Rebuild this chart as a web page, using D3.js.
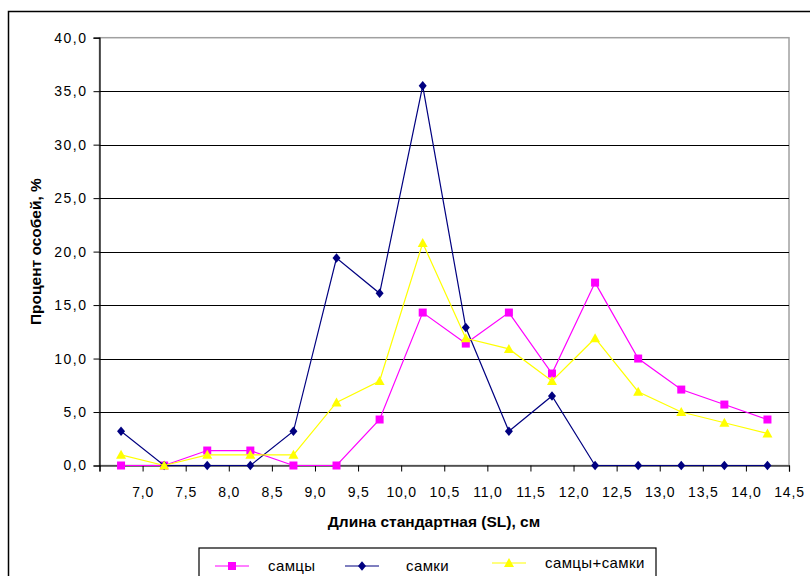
<!DOCTYPE html>
<html><head><meta charset="utf-8">
<script src="https://cdn.jsdelivr.net/npm/d3@7"></script>
<style>
html,body{margin:0;padding:0;background:#fff;}
svg{display:block;font-family:"Liberation Sans",Arial,sans-serif;}
</style></head>
<body><svg id="c" width="810" height="576"></svg>
<script>
// bin centres (cm)
const binCenters = [6.75,7.25,7.75,8.25,8.75,9.25,9.75,10.25,10.75,11.25,11.75,12.25,12.75,13.25,13.75,14.25];
const xTicks = [6.5,7.0,7.5,8.0,8.5,9.0,9.5,10.0,10.5,11.0,11.5,12.0,12.5,13.0,13.5,14.0,14.5];
const yTicks = [0,5,10,15,20,25,30,35,40];
const males   = [0,0,1.4,1.4,0,0,4.3,14.3,11.4,14.3,8.6,17.1,10.0,7.1,5.7,4.3];
const females = [3.2,0,0,0,3.2,19.4,16.1,35.5,12.9,3.2,6.5,0,0,0,0,0];
const both    = [1.0,0,1.0,1.0,1.0,5.9,7.9,20.8,11.9,10.9,7.9,11.9,6.9,5.0,4.0,3.0];
const seriesNames = ["самцы","самки","самцы+самки"];
const seriesColors = ["#FF00FF","#000080","#FFFF00"];
const seriesShapes = ["square","diamond","triangle"];
const yTitle = "Процент особей, %";
const xTitle = "Длина стандартная (SL), см";

const svg = d3.select("#c");
const L = 99.5, R = 789, T = 37.7, B = 465.5;
const x = d3.scaleLinear().domain([6.5,14.5]).range([L,R]);
const y = d3.scaleLinear().domain([0,40]).range([B,T]);
const fmt = d => d3.format(".1f")(d).replace(".", ",");

// outer chart frame
svg.append("rect").attr("x",8.5).attr("y",11.5).attr("width",830).attr("height",600)
  .attr("fill","#fff").attr("stroke","#000").attr("stroke-width",1.5);

// plot area border (grey)
svg.append("rect").attr("x",L).attr("y",T).attr("width",R-L).attr("height",B-T)
  .attr("fill","#fff").attr("stroke","#a0a0a0").attr("stroke-width",1.5);

// gridlines
svg.append("g").selectAll("line").data(yTicks.filter(d=>d>0 && d<40)).join("line")
  .attr("x1",L).attr("x2",R).attr("y1",d=>Math.round(y(d))+0.5).attr("y2",d=>Math.round(y(d))+0.5)
  .attr("stroke","#000").attr("stroke-width",1.2);

// y axis
const yAxis = d3.axisLeft(y).tickValues(yTicks).tickFormat(fmt).tickSize(6).tickPadding(6);
const gy = svg.append("g").attr("transform",`translate(${L},0)`).call(yAxis);
gy.select(".domain").attr("stroke","#000").attr("stroke-width",1.2);
gy.selectAll(".tick line").attr("stroke","#000");
gy.selectAll("text").attr("font-size",14).attr("letter-spacing","1.5px").attr("fill","#000")
  .attr("font-family","'Liberation Sans',Arial,sans-serif");

// x axis
const xAxis = d3.axisBottom(x).tickValues(xTicks).tickFormat(d => d===6.5 ? "" : fmt(d)).tickSize(6).tickPadding(16);
const gx = svg.append("g").attr("transform",`translate(0,${B})`).call(xAxis);
gx.select(".domain").attr("stroke","#000").attr("stroke-width",1.2);
gx.selectAll(".tick line").attr("stroke","#000");
gx.selectAll("text").attr("font-size",14).attr("letter-spacing","0.8px").attr("fill","#000")
  .attr("font-family","'Liberation Sans',Arial,sans-serif");

// titles
svg.append("text").attr("transform",`translate(41,${(T+B)/2}) rotate(-90)`)
  .attr("text-anchor","middle").attr("font-size",15.5).attr("font-weight","bold").text(yTitle);
svg.append("text").attr("x",434).attr("y",527)
  .attr("text-anchor","middle").attr("font-size",15.5).attr("font-weight","bold").text(xTitle);

// markers
function marker(sel, shape, color){
  if(shape==="square"){
    sel.append("rect").attr("x",-4).attr("y",-4).attr("width",8).attr("height",8).attr("fill",color);
  } else if(shape==="diamond"){
    sel.append("path").attr("d","M0,-4.8L4,0L0,4.8L-4,0Z").attr("fill",color);
  } else {
    sel.append("path").attr("d","M0,-5L5,4L-5,4Z").attr("fill",color);
  }
}

const allSeries = [males, females, both];
const line = d3.line().x((d,i)=>x(binCenters[i])).y(d=>y(d));
allSeries.forEach((vals,k)=>{
  const g = svg.append("g");
  g.append("path").datum(vals).attr("d",line).attr("fill","none")
    .attr("stroke",seriesColors[k]).attr("stroke-width",1.2);
  g.selectAll("g.m").data(vals).join("g").attr("class","m")
    .attr("transform",(d,i)=>`translate(${x(binCenters[i])},${y(d)})`)
    .each(function(){ marker(d3.select(this), seriesShapes[k], seriesColors[k]); });
});

// legend
const lg = svg.append("g");
lg.append("rect").attr("x",199).attr("y",548).attr("width",457).attr("height",60)
  .attr("fill","#fff").attr("stroke","#000").attr("stroke-width",1.2);
const legX = [215, 345, 492];
const textX = [268, 406, 545];
const legY = [566, 566, 563];
seriesNames.forEach((nm,k)=>{
  lg.append("line").attr("x1",legX[k]).attr("x2",legX[k]+34).attr("y1",legY[k]).attr("y2",legY[k])
    .attr("stroke",seriesColors[k]).attr("stroke-width",1.2);
  const m = lg.append("g").attr("transform",`translate(${legX[k]+17},${legY[k]})`);
  marker(m, seriesShapes[k], seriesColors[k]);
  lg.append("text").attr("x",textX[k]).attr("y",legY[k]+5).attr("font-size",15).attr("letter-spacing","0.4px").text(nm);
});
</script></body></html>
